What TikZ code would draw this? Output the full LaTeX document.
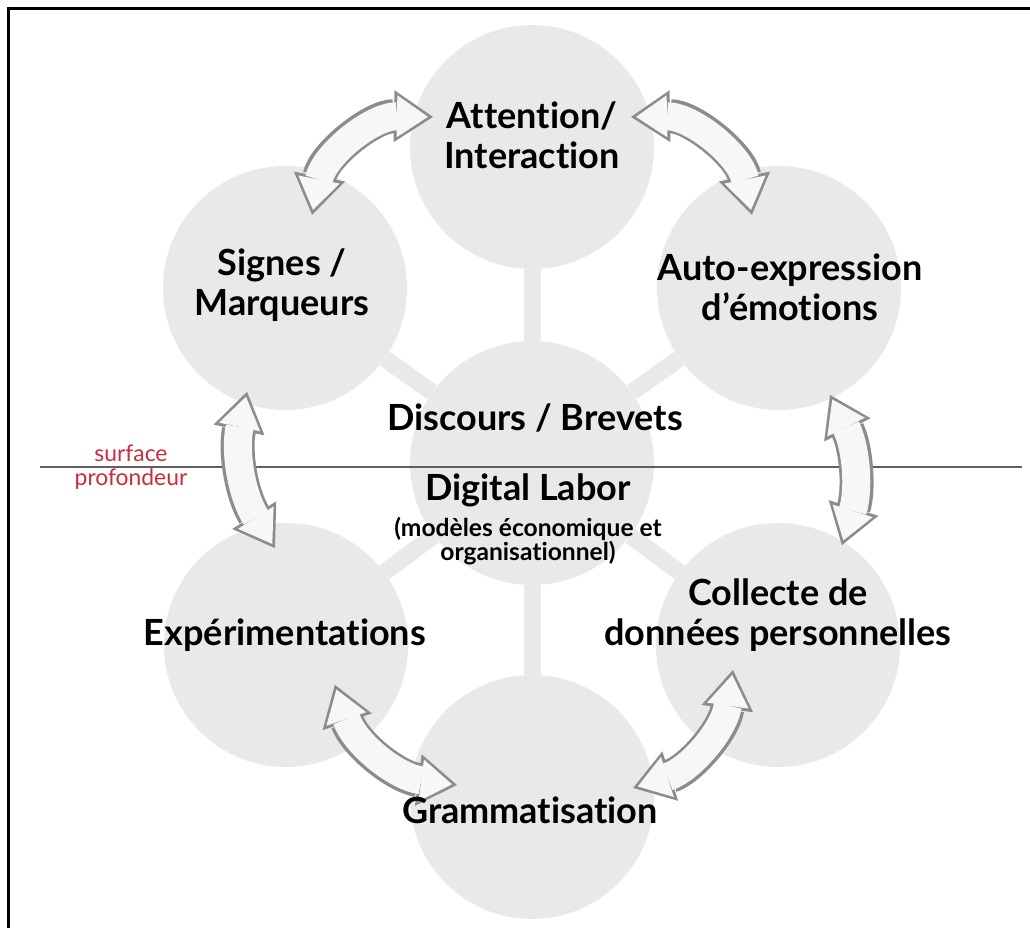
\documentclass[tikz,border=0pt]{standalone}
\usepackage{fontspec}
\setmainfont{Lato}[Ligatures={TeX,NoCommon}]
\usetikzlibrary{arrows.meta,calc,positioning,backgrounds}
\definecolor{disc}{RGB}{233,233,233}
\definecolor{arrowedge}{RGB}{140,140,140}
\definecolor{arrowbody}{RGB}{247,247,247}
\definecolor{levelline}{RGB}{95,95,95}
\definecolor{levelred}{RGB}{200,45,60}

\begin{document}
\begin{tikzpicture}[
    disc/.style={circle, fill=disc, minimum size=4.88cm, inner sep=0pt},
    txt/.style={align=center, inner sep=0pt, font=\fontsize{20.5}{23}\selectfont\bfseries},
    subtxt/.style={align=center, inner sep=0pt, font=\fontsize{14}{13.5}\selectfont\bfseries},
    spoke/.style={draw=disc, line width=0.34cm},
    arrowout/.style={draw=arrowedge, line width=0.68cm,
        {Triangle[length=0.78cm, width=1.04cm, line width=0pt]}-{Triangle[length=0.78cm, width=1.04cm, line width=0pt]}},
    arrowin/.style={draw=arrowbody, line width=0.56cm, shorten <=0.1cm, shorten >=0.1cm,
        {Triangle[length=0.62cm, width=0.84cm, line width=0pt]}-{Triangle[length=0.62cm, width=0.84cm, line width=0pt]}}
]
\useasboundingbox (0,0) rectangle (20.6,-18.56);

% frame
\draw[line width=0.06cm] (0.18,-18.56) -- (0.18,-0.16) -- (20.6,-0.16);

% circles
\node[disc] (core) at (10.64,-9.26) {};
\node[disc] (att)  at (10.64,-2.94) {};
\node[disc] (sig)  at (5.70,-5.76) {};
\node[disc] (emo)  at (15.58,-5.76) {};
\node[disc] (exp)  at (5.72,-12.90) {};
\node[disc] (col)  at (15.56,-12.90) {};
\node[disc] (gram) at (10.64,-15.94) {};

% spokes
\begin{scope}[on background layer]
\foreach \n in {att,sig,emo,exp,col,gram}
    \draw[spoke] (core) -- (\n);
\end{scope}

% surface / profondeur
\coordinate (levelL) at (0.80,-9.34);
\coordinate (levelR) at (20.44,-9.34);
\draw[levelline, line width=0.04cm] (levelL) -- (levelR);
\node[align=center, text=levelred, font=\fontsize{13}{13.5}\selectfont] (level) at (2.62,-9.34) {surface\\profondeur};

% arrow ends
\coordinate (sigNE) at ($(sig)+(69.7:1.56)$);
\coordinate (attW)  at ($(att)+(163.1:2.07)$);
\coordinate (attE)  at ($(att)+(16.9:2.07)$);
\coordinate (emoNW) at ($(emo)+(110.3:1.56)$);
\coordinate (emoS)  at ($(emo)+(295.5:2.37)$);
\coordinate (colN)  at ($(col)+(57.4:2.37)$);
\coordinate (colSW) at ($(col)+(209:1.03)$);
\coordinate (gramE) at ($(gram)+(5.1:2.03)$);
\coordinate (gramW) at ($(gram)+(170.9:1.52)$);
\coordinate (expE)  at ($(exp)+(320.8:1.26)$);
\coordinate (expN)  at ($(exp)+(96.5:1.95)$);
\coordinate (sigS)  at ($(sig)+(249.9:2.21)$);

% cycle arrows
\foreach \s/\e/\b in {sigNE/attW/40, attE/emoNW/40, emoS/colN/22, colSW/gramE/32, gramW/expE/32, expN/sigS/22} {
    \draw[arrowout] (\s) to[bend left=\b] (\e);
    \draw[arrowin] (\s) to[bend left=\b] (\e);
}

% labels
\node[txt] (atttxt) at (10.64,-2.70) {Attention/\\Interaction};
\node[txt] (sigtxt) at (5.64,-5.70) {Signes /\\Marqueurs};
\node[txt] (emotxt) at (15.80,-5.74) {Auto-expression\\d'émotions};
\node[txt] (coretxt) at (10.70,-8.36) {Discours / Brevets};
\node[txt] (labtxt) at (10.56,-9.80) {Digital Labor};
\node[subtxt, below=0.2cm of labtxt] (labsub) {(modèles économique et\\organisationnel)};
\node[txt] (exptxt) at (5.70,-12.70) {Expérimentations};
\node[txt] (coltxt) at (15.56,-12.30) {Collecte de\\données personnelles};
\node[txt] (gramtxt) at (10.60,-16.20) {Grammatisation};

\end{tikzpicture}
\end{document}
